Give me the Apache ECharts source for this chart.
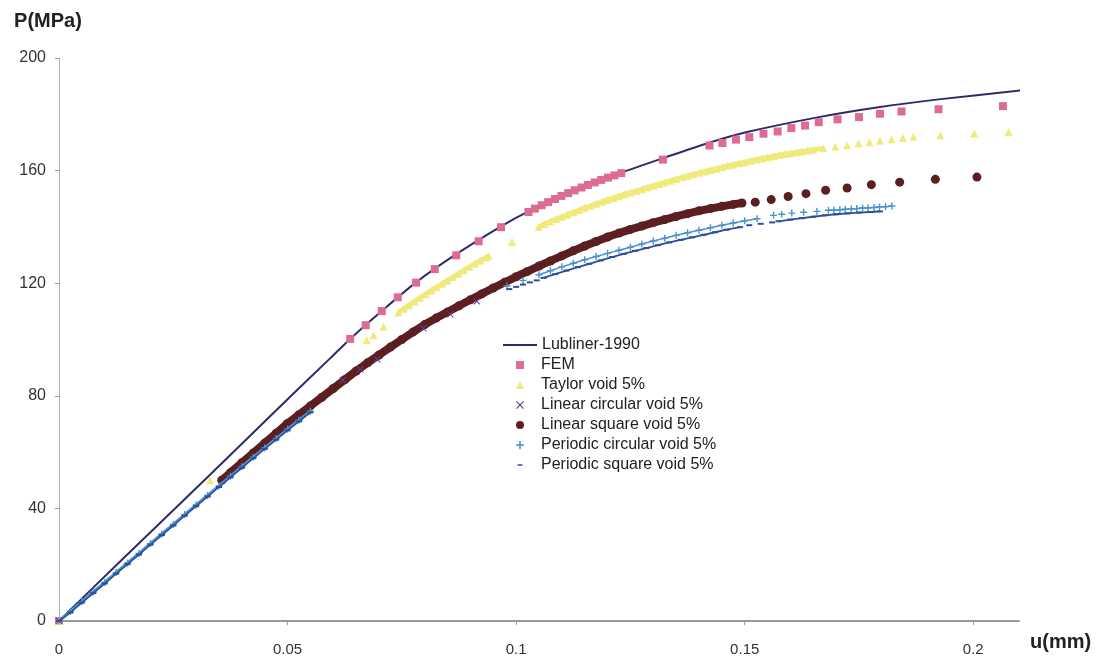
<!DOCTYPE html>
<html>
<head>
<meta charset="utf-8">
<script src="https://cdn.jsdelivr.net/npm/echarts@6/dist/echarts.min.js"></script>
<style>
html,body{margin:0;padding:0;background:#fff;}
#chart{width:1098px;height:660px;}
</style>
</head>
<body>
<div id="chart"></div>
<script>
// ---- data (u in mm, P in MPa) ----
const xTicks = [0, 0.05, 0.1, 0.15, 0.2];
const yTicks = [0, 40, 80, 120, 160, 200];

const lubliner = [[0,0],[0.0141,22.3],[0.0327,51.4],[0.05,78.8],[0.0593,93.3],[0.0637,100.2],[0.0706,110.1],[0.0781,120.3],[0.0869,130.3],[0.0967,140.2],[0.1027,145.5],[0.1128,153.2],[0.123,159.3],[0.1321,164.4],[0.1422,169.9],[0.1505,173.7],[0.1662,179.0],[0.1796,182.6],[0.1924,185.3],[0.2117,188.7]];

const fem = [[0,0],[0.0637,100.2],[0.0671,105.1],[0.0706,110.1],[0.0741,115.0],[0.0781,120.2],[0.0822,125.0],[0.0869,129.9],[0.0918,134.9],[0.0967,139.9],
[0.1027,145.3],[0.1041,146.5],[0.1056,147.7],[0.107,148.8],[0.1085,149.9],[0.1099,151.0],[0.1114,152.0],[0.1128,153.0],[0.1143,154.0],[0.1157,154.9],[0.1172,155.8],[0.1186,156.7],[0.1201,157.5],[0.1215,158.3],[0.123,159.1],
[0.1321,163.9],[0.1423,168.9],[0.1451,169.8],[0.1481,171.0],[0.151,171.9],[0.1541,173.1],[0.1572,173.9],[0.1602,175.1],[0.1632,176.0],[0.1662,177.2],[0.1703,178.2],[0.175,179.0],[0.1796,180.2],[0.1843,181.0],[0.1924,181.8],[0.2065,182.9]];

const taylorSparse = [[0,0],[0.033,50.0],[0.0673,99.7],[0.0688,101.5],[0.071,104.5],[0.0991,134.6],
[0.1698,168.5],[0.1724,169.0],[0.1749,169.6],[0.1773,170.1],[0.1796,170.6],[0.1821,171.1],[0.1846,171.6],[0.1869,172.0],[0.1928,172.6],[0.2002,173.2],[0.2077,173.7]];
const taylorDense1 = [[0.0742,109.6],[0.0754,110.9],[0.0766,112.2],[0.0778,113.5],[0.079,114.8],[0.0802,116.1],[0.0814,117.4],[0.0826,118.6],[0.0838,119.8],[0.085,121.0],[0.0862,122.2],[0.0874,123.4],[0.0886,124.6],[0.0898,125.8],[0.091,126.9],[0.0922,128.0],[0.0934,129.1],[0.094,129.7]];
const taylorDense2 = [[0.1049,140.0],[0.1062,141.0],[0.1075,141.9],[0.1088,142.8],[0.11,143.6],[0.1113,144.4],[0.1125,145.2],[0.1138,146.0],[0.115,146.8],[0.1163,147.5],[0.1175,148.2],[0.1188,148.9],[0.12,149.6],[0.1213,150.3],[0.1225,150.9],[0.1238,151.6],[0.125,152.2],[0.1263,152.8],[0.1275,153.4],[0.1288,154.0],[0.13,154.6],[0.1313,155.2],[0.1325,155.8],[0.1338,156.4],[0.135,157.0],[0.1363,157.6],[0.1375,158.1],[0.1388,158.7],[0.14,159.2],[0.1413,159.7],[0.1425,160.2],[0.1438,160.7],[0.145,161.2],[0.1463,161.7],[0.1475,162.1],[0.1488,162.6],[0.15,163.0],[0.1513,163.5],[0.1525,163.9],[0.1538,164.3],[0.155,164.7],[0.1563,165.1],[0.1575,165.5],[0.1588,165.9],[0.16,166.2],[0.1613,166.5],[0.1625,166.8],[0.1638,167.1],[0.165,167.4],[0.1672,167.9]];

const linCirc = [[0,0],[0.0621,85.5],[0.0659,89.4],[0.0696,93.0],[0.0797,104.0],[0.0856,109.0],[0.0914,113.6]];

const linSqDense = [[0.0356,50.0],[0.0375,52.7],[0.04,56.2],[0.0425,59.7],[0.045,63.2],[0.0475,66.7],[0.05,70.2],[0.0525,73.3],[0.055,76.4],[0.0575,79.5],[0.06,82.6],[0.0625,85.7],[0.065,88.8],[0.0675,91.7],[0.07,94.5],[0.0725,97.3],[0.075,100.0],[0.0775,102.7],[0.08,105.3],[0.0825,107.6],[0.085,109.8],[0.0875,112.0],[0.09,114.1],[0.0925,116.2],[0.095,118.3],[0.0975,120.3],[0.1,122.3],[0.1025,124.2],[0.105,126.1],[0.1075,127.9],[0.11,129.7],[0.1125,131.5],[0.115,133.2],[0.1175,134.8],[0.12,136.4],[0.1225,137.8],[0.125,139.1],[0.1275,140.3],[0.13,141.5],[0.1325,142.6],[0.135,143.7],[0.1375,144.7],[0.14,145.7],[0.1425,146.5],[0.145,147.3],[0.1475,148.0],[0.1494,148.5]];
const linSqSparse = [[0.1523,148.8],[0.1558,149.7],[0.1595,150.8],[0.1634,151.8],[0.1677,153.0],[0.1724,153.8],[0.1777,155.0],[0.1839,155.9],[0.1917,156.9],[0.2008,157.7]];

const perCircDense1 = [[0,0],[0.0025,3.4],[0.005,6.9],[0.0075,10.3],[0.01,13.7],[0.0125,17.2],[0.015,20.6],[0.0175,24.0],[0.02,27.5],[0.0225,30.9],[0.025,34.3],[0.0275,37.8],[0.03,41.2],[0.0325,44.6],[0.035,48.0],[0.0375,51.4],[0.04,54.8],[0.0425,58.2],[0.045,61.5],[0.0475,64.8],[0.05,68.1],[0.0525,71.3],[0.055,74.5]];
const perCircSparse = [[0.098,119.0],[0.1015,121.0],[0.1563,144.1],[0.1581,144.5],[0.1603,144.9],[0.1629,145.2],[0.1658,145.5]];
const perCircDense2 = [[0.105,123.0],[0.1075,124.4],[0.11,125.8],[0.1125,127.1],[0.115,128.3],[0.1175,129.5],[0.12,130.6],[0.1225,131.7],[0.125,132.8],[0.1275,133.9],[0.13,135.0],[0.1325,136.0],[0.135,137.0],[0.1375,137.9],[0.14,138.8],[0.1425,139.7],[0.145,140.6],[0.1475,141.4],[0.15,142.2],[0.1527,142.9]];
const perCircDense3 = [[0.1683,145.9],[0.1695,146.0],[0.1708,146.1],[0.172,146.3],[0.1733,146.4],[0.1745,146.5],[0.1758,146.7],[0.177,146.8],[0.1783,146.9],[0.1795,147.1],[0.1808,147.2],[0.1822,147.4]];

const perSqDense1 = [[0,0],[0.0025,3.0],[0.005,6.5],[0.0075,9.9],[0.01,13.3],[0.0125,16.8],[0.015,20.2],[0.0175,23.6],[0.02,27.1],[0.0225,30.5],[0.025,33.9],[0.0275,37.4],[0.03,40.8],[0.0325,44.2],[0.035,47.6],[0.0375,51.0],[0.04,54.4],[0.0425,57.8],[0.045,61.1],[0.0475,64.4],[0.05,67.7],[0.0525,70.9],[0.055,74.1]];
const perSqSparse = [[0.0985,117.9],[0.1,118.7],[0.1015,119.5],[0.103,120.3],[0.1045,121.0],[0.151,140.6],[0.1535,141.1],[0.156,141.6]];
const perSqDense2 = [[0.106,121.9],[0.1085,123.2],[0.111,124.5],[0.1135,125.7],[0.116,126.9],[0.1185,128.1],[0.121,129.3],[0.1235,130.4],[0.126,131.5],[0.1285,132.5],[0.131,133.5],[0.1335,134.5],[0.136,135.4],[0.1385,136.3],[0.141,137.2],[0.1435,138.1],[0.146,139.0],[0.149,139.9]];
const perSqDense3 = [[0.1574,142.0],[0.16,142.6],[0.1625,143.1],[0.165,143.6],[0.1675,144.1],[0.17,144.5],[0.1725,144.8],[0.175,145.1],[0.1775,145.3],[0.1796,145.5]];

// ---- styles ----
const C = {
  lub: '#2c2c6c', fem: '#dc6c93', tay: '#f0ea7c', lc: '#6b3a8e',
  ls: '#5b1f22', pc: '#4b93cc', ps: '#2e4e9c'
};
const plusPath = 'path://M4,0H6V4H10V6H6V10H4V6H0V4H4Z';
const crossPath = 'path://M1,0L5,4L9,0L10,1L6,5L10,9L9,10L5,6L1,10L0,9L4,5L0,1Z';
const dashPath = 'path://M0,0H0.01V0.01H0Z M2,4.2H8V5.8H2Z M9.99,9.99H10V10H9.99Z';
const FONT = 'Liberation Sans, Arial, sans-serif';

function scatter(name, data, color, symbol, size, z) {
  return { name, type: 'scatter', data, symbol, symbolSize: size, z: z,
    itemStyle: { color, opacity: 1 }, emphasis: { disabled: true }, silent: true };
}
function band(name, data, color, symbol, size, width, z) {
  return { name, type: 'line', data, symbol, symbolSize: size, showSymbol: true, z: z,
    showAllSymbol: true, itemStyle: { color, opacity: 1 }, lineStyle: { color, width },
    emphasis: { disabled: true }, silent: true };
}

const chart = echarts.init(document.getElementById('chart'), null, { renderer: 'canvas' });
chart.setOption({
  animation: false,
  backgroundColor: '#ffffff',
  textStyle: { fontFamily: FONT },
  grid: { left: 59, right: 79, top: 58, bottom: 39, containLabel: false },
  xAxis: {
    type: 'value', min: 0, max: 0.21, interval: 0.05,
    name: 'u(mm)', nameLocation: 'end', nameGap: 11,
    nameTextStyle: { fontFamily: FONT, fontSize: 20, fontWeight: 'bold', color: '#222',
      verticalAlign: 'top', padding: [11, 0, 0, 0] },
    axisLine: { show: true, onZero: false, lineStyle: { color: '#9a9a9a', width: 2 } },
    axisTick: { show: true, inside: false, length: 4, customValues: xTicks, lineStyle: { color: '#9a9a9a' } },
    axisLabel: { show: true, margin: 21, fontSize: 15, color: '#333', fontFamily: FONT,
      customValues: xTicks, formatter: v => String(v) },
    splitLine: { show: false }
  },
  yAxis: {
    type: 'value', min: 0, max: 200, interval: 40,
    name: 'P(MPa)', nameLocation: 'end', nameGap: 27,
    nameTextStyle: { fontFamily: FONT, fontSize: 20, fontWeight: 'bold', color: '#222',
      align: 'center', padding: [0, 22, 0, 0] },
    axisLine: { show: true, onZero: false, lineStyle: { color: '#b0b0b0', width: 1 } },
    axisTick: { show: true, inside: false, length: 4, lineStyle: { color: '#9a9a9a' } },
    axisLabel: { show: true, margin: 13, fontSize: 16, color: '#333', fontFamily: FONT,
      customValues: yTicks },
    splitLine: { show: false }
  },
  legend: [
    { data: [{ name: 'Lubliner-1990', icon: 'rect' }], orient: 'vertical', left: 503, top: 337, padding: 0,
      itemWidth: 34, itemHeight: 2, itemGap: 4,
      textStyle: { fontFamily: FONT, fontSize: 16, color: '#222', lineHeight: 16 },
      selectedMode: false },
    { data: [
        { name: 'FEM', icon: 'rect' },
        { name: 'Taylor void 5%', icon: 'triangle' },
        { name: 'Linear circular void 5%', icon: crossPath },
        { name: 'Linear square void 5%', icon: 'circle' },
        { name: 'Periodic circular void 5%', icon: plusPath },
        { name: 'Periodic square void 5%', icon: dashPath }
      ],
      orient: 'vertical', left: 516, top: 357, padding: 0,
      itemWidth: 8, itemHeight: 8, itemGap: 4, symbolKeepAspect: true,
      textStyle: { fontFamily: FONT, fontSize: 16, color: '#222', lineHeight: 16, padding: [0, 0, 0, 12] },
      selectedMode: false }
  ],
  series: [
    { name: 'Lubliner-1990', type: 'line', data: lubliner, smooth: 0.3, symbol: 'none', z: 2,
      clip: false,
      lineStyle: { color: C.lub, width: 2 }, itemStyle: { color: C.lub }, emphasis: { disabled: true }, silent: true },
    scatter('FEM', fem, C.fem, 'rect', 8, 3),
    band('Taylor void 5%', taylorDense1, C.tay, 'triangle', 8, 5, 3),
    band('Taylor void 5%', taylorDense2, C.tay, 'triangle', 8, 5, 3),
    scatter('Taylor void 5%', taylorSparse, C.tay, 'triangle', 8, 3),
    band('Linear square void 5%', linSqDense, C.ls, 'circle', 9, 8, 4),
    scatter('Linear square void 5%', linSqSparse, C.ls, 'circle', 9, 4),
    band('Periodic circular void 5%', perCircDense1, C.pc, plusPath, 7, 3, 5),
    band('Periodic circular void 5%', perCircDense2, C.pc, plusPath, 7, 1.5, 5),
    band('Periodic circular void 5%', perCircDense3, C.pc, plusPath, 7, 1.5, 5),
    scatter('Periodic circular void 5%', perCircSparse, C.pc, plusPath, 7, 5),
    band('Periodic square void 5%', perSqDense1, C.ps, 'rect', [6, 2], 1.5, 6),
    band('Periodic square void 5%', perSqDense2, C.ps, 'rect', [6, 2], 1.8, 6),
    band('Periodic square void 5%', perSqDense3, C.ps, 'rect', [6, 2], 1.8, 6),
    scatter('Periodic square void 5%', perSqSparse, C.ps, 'rect', [6, 2], 6),
    scatter('Linear circular void 5%', linCirc, C.lc, crossPath, 7, 7)
  ]
});
</script>
</body>
</html>
